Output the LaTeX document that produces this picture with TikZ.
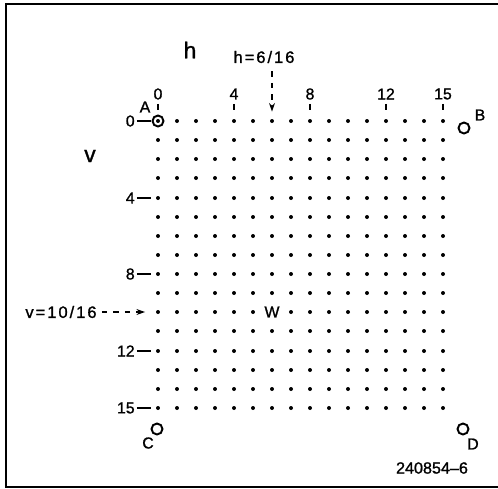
\documentclass[tikz,border=0pt]{standalone}
\usepackage{fontspec}
\setmainfont[FakeBold=1.2]{Liberation Sans}
\newfontfamily\widefont[LetterSpace=12,FakeBold=1.2]{Liberation Sans}
\usetikzlibrary{arrows.meta}
\begin{document}
\begin{tikzpicture}[x=0.02cm,y=-0.02cm,
  dot/.style={circle,fill,inner sep=0pt,minimum size=0.08cm},
  ring/.style={circle,draw,line width=1.1pt,inner sep=0pt,minimum size=0.22cm},
  lab/.style={inner sep=0pt,font=\fontsize{9}{10}\selectfont},
  widelab/.style={inner sep=0pt,font=\fontsize{9.4}{10}\selectfont\widefont},
  big/.style={inner sep=0pt,font=\fontsize{13}{14}\selectfont},
  tickline/.style={line width=1.1pt},
  guide/.style={line width=0.7pt,dash pattern=on 3pt off 3.5pt,-{Stealth[length=5pt,width=3.4pt]}}
]
\useasboundingbox (0,0) rectangle (498,488);
\draw[line width=1.2pt] (498,4) -- (6,4) -- (6,487) -- (498,487);

% grid of dots
\foreach \i in {0,...,15}{\foreach \j in {0,...,15}{
  \pgfmathtruncatemacro{\skipit}{(\i==6)&&(\j==10)}
  \pgfmathtruncatemacro{\yy}{121+round(19.13*\j)}
  \ifnum\skipit=0 \node[dot] (d\i-\j) at ({158+19*\i},\yy) {};\fi
}}
\node[lab] (W) at (272,312) {W};

% corner rings
\node[ring] (Ac) at (d0-0) {};
\node[lab] (A) at (145,107) {A};
\node[ring] (Bc) at (464,128) {};
\node[lab] (B) at (480,115) {B};
\node[ring] (Cc) at (157,429) {};
\node[lab] (C) at (148,443) {C};
\node[ring] (Dc) at (463,429) {};
\node[lab] (D) at (473,444) {D};

% column labels
\foreach \c in {0,4,8,12,15}{
  \node[lab] (ct\c) at ({158+19*\c},94) {\c};
  \draw[tickline,shorten <=0.08cm,shorten >=0.17cm] (ct\c) -- (d\c-0);
}
% row labels
\foreach \r in {0,4,8,12,15}{
  \node[lab,anchor=east] (rl\r) at (135,0 |- d0-\r) {\r};
  \draw[tickline,shorten <=0.04cm,shorten >=0.09cm] (rl\r) -- (d0-\r);
}

\node[big] (h) at (190,50) {h};
\node[big] (v) at (90,156) {v};

\node[widelab] (hl) at (264,57) {h=6/16};
\draw[guide,shorten <=0.16cm,shorten >=0.14cm] (hl.south -| d6-0) -- (d6-0);

\node[widelab] (vl) at (61,312) {v=10/16};
\draw[guide,shorten <=0.1cm,shorten >=0.21cm] (vl) -- (d0-10);

\node[lab,font=\fontsize{9.2}{10}\selectfont] (fig) at (432,468) {240854–6};
\end{tikzpicture}
\end{document}
